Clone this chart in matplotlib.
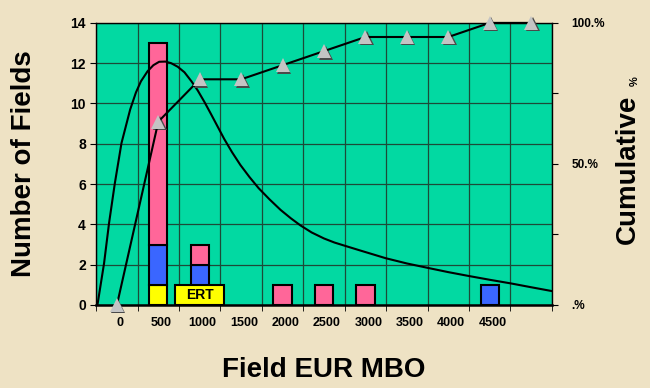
import numpy as np
import matplotlib
matplotlib.use("Agg")
import matplotlib.pyplot as plt
from matplotlib.patches import Rectangle
from matplotlib.transforms import offset_copy

plt.rcParams['font.family'] = ['Liberation Sans', 'DejaVu Sans']
plt.rcParams['font.weight'] = 'bold'

# categories (EUR bins, MBO)
labels = ['0', '500', '1000', '1500', '2000', '2500', '3000', '3500', '4000', '4500', '']
yellow = [0, 1, 0, 0, 0, 0, 0, 0, 0, 0, 0]
blue = [0, 2, 2, 0, 0, 0, 0, 0, 0, 1, 0]
pink = [0, 10, 1, 0, 1, 1, 1, 0, 0, 0, 0]
cumulative = [0, 65, 80, 80, 85, 90, 95, 95, 95, 100, 100]

# fitted distribution curve (x in bin units)
curve_x = [-0.47, -0.31, -0.19, -0.05, 0.11, 0.32, 0.46, 0.58, 0.74, 0.88, 1.02,
           1.17, 1.31, 1.47, 1.63, 1.80, 1.95, 2.12, 2.27, 2.43, 2.59, 2.78, 2.98,
           3.20, 3.42, 3.68, 3.95, 4.20, 4.43, 4.70, 5.00, 5.25, 5.50, 5.88, 6.49,
           7.00, 7.53, 8.00, 8.49, 9.00, 9.51, 10.0, 10.5]
curve_y = [0.0, 2.07, 4.06, 6.04, 8.03, 9.7, 10.55, 11.1, 11.6, 11.9, 12.07,
           12.08, 12.0, 11.82, 11.55, 11.1, 10.65, 10.05, 9.48, 8.86, 8.24, 7.58, 6.95,
           6.35, 5.8, 5.25, 4.72, 4.3, 3.95, 3.6, 3.30, 3.10, 2.94, 2.70, 2.32,
           2.06, 1.83, 1.63, 1.44, 1.25, 1.07, 0.88, 0.69]

bg = '#eee2c4'
green = '#02d9a2'
grid_c = '#1d4a38'

fig = plt.figure(figsize=(6.5, 3.88), dpi=100, facecolor=bg)
ax = fig.add_axes([0.148, 0.214, 0.701, 0.727])
ax.set_facecolor(green)

x = np.arange(len(labels))
w = 0.44
yellow = np.array(yellow)
blue = np.array(blue)
pink = np.array(pink)
kw = dict(width=w, edgecolor='black', linewidth=1.5, zorder=3)
for vals, bottom, col in [(yellow, 0 * yellow, '#ffff00'),
                          (blue, yellow, '#3a66ff'),
                          (pink, yellow + blue, '#ff6699')]:
    m = vals > 0
    ax.bar(x[m], vals[m], bottom=bottom[m], color=col, **kw)

# ERT label box
ax.add_patch(Rectangle((1.41, 0), 1.18, 1, facecolor='#ffff00', edgecolor='black',
                       linewidth=1.5, zorder=4))
ax.text(2, 0.5, 'ERT', ha='center', va='center', fontsize=10, fontweight='bold', zorder=5)

ax.plot(curve_x, curve_y, color='black', linewidth=1.5, zorder=5)

ax.set_xlim(-0.5, 10.5)
ax.set_ylim(0, 14)
ax.set_xticks(x + 0.07)
ax.set_xticklabels(labels, fontsize=9, fontweight='bold')
ax.tick_params(axis='x', which='major', length=0, pad=9)
ax.set_xticks(np.arange(-0.5, 11, 1), minor=True)
ax.tick_params(axis='x', which='minor', length=4, direction='out')
ax.set_yticks(np.arange(0, 15, 2))
ax.tick_params(axis='y', labelsize=10, length=4, direction='out')
for t in ax.get_yticklabels():
    t.set_fontweight('bold')
ax.grid(True, axis='y', color=grid_c, linewidth=0.9)
ax.grid(True, axis='x', which='minor', color=grid_c, linewidth=0.9)
ax.set_axisbelow(True)
for s in ax.spines.values():
    s.set_color('black')
    s.set_linewidth(1.0)
ax.spines['bottom'].set_linewidth(1.8)

ax.set_ylabel('Number of Fields', fontsize=20, fontweight='bold', labelpad=24)
ax.set_xlabel('Field EUR MBO', fontsize=20, fontweight='bold', labelpad=20)

ax2 = ax.twinx()
ax2.set_ylim(0, 100)
ax2.set_yticks([0, 25, 50, 75, 100])
ax2.set_yticklabels(['.%', '', '50.%', '', '100.%'], fontsize=8.5, fontweight='bold')
ax2.tick_params(axis='y', length=4, direction='out', pad=10)
for s in ax2.spines.values():
    s.set_visible(False)

shadow = offset_copy(ax2.transData, fig=fig, x=1.5, y=-1.5, units='dots')
ax2.plot(x, cumulative, linestyle='none', marker='^', markersize=10, color='#4a4a4a',
         markeredgewidth=0, transform=shadow, clip_on=False, zorder=6)
ax2.plot(x, cumulative, color='black', linewidth=1.5, marker='^', markersize=10,
         markerfacecolor='#c4c4c4', markeredgewidth=0, clip_on=False, zorder=7)

fig.text(0.966, 0.564, 'Cumulative', rotation=90, ha='center', va='center',
         fontsize=20, fontweight='bold')
fig.text(0.977, 0.79, '%', rotation=90, ha='center', va='center', fontsize=8)

fig.savefig('out.png', dpi=100, facecolor=bg)
